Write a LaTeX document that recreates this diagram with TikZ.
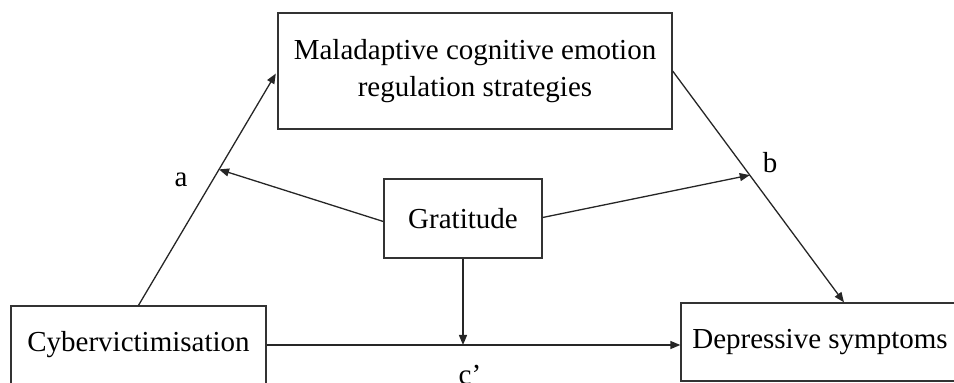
\documentclass[tikz,border=0pt]{standalone}
\usepackage{fontspec}
\setmainfont{Liberation Serif}
\usetikzlibrary{arrows.meta,calc}
\begin{document}
\begin{tikzpicture}[x=1pt,y=1pt,
  box/.style={draw=black!80,line width=1.3pt,rectangle,inner sep=0pt,align=center,font=\fontsize{29}{37}\selectfont},
  conn/.style={draw=black!85,line width=1.3pt,-{Triangle[length=10pt,width=8pt]}},
  lbl/.style={font=\fontsize{29}{37}\selectfont,inner sep=0pt}]
\useasboundingbox (0,0) rectangle (954,383);
\node[box,minimum width=394pt,minimum height=116pt] (mal) at (475,312) {Maladaptive cognitive emotion\\regulation strategies};
\node[box,minimum width=158pt,minimum height=79pt] (grat) at (463,164.5) {Gratitude};
\node[box,minimum width=255pt,minimum height=78pt] (cyber) at (138.5,38) {Cybervictimisation};
\node[box,minimum width=278pt,minimum height=78pt] (dep) at (820,41) {Depressive symptoms};
\coordinate (bEnd) at ([xshift=24pt]dep.north);
\coordinate (aM) at ($(cyber.north)!0.58!(mal.west)$);
\coordinate (bM) at ($(mal.east)!0.45!(bEnd)$);
\coordinate (hEnd) at (cyber.east -| dep.west);
\coordinate (vEnd) at (grat.south |- cyber.east);
\draw[conn,shorten >=3pt] (cyber.north) -- (mal.west);
\draw[conn] (mal.east) -- (bEnd);
\draw[conn] ([yshift=-3pt]grat.west) -- (aM);
\draw[conn] ([yshift=1pt]grat.east) -- (bM);
\draw[conn] (cyber.east) -- (hEnd);
\draw[conn] (grat.south) -- (vEnd);
\node[lbl] (la) at (181,203) {a};
\node[lbl] (lb) at (770,220) {b};
\node[lbl,anchor=base] (lc) at (470,-2) {c’};
\end{tikzpicture}
\end{document}
